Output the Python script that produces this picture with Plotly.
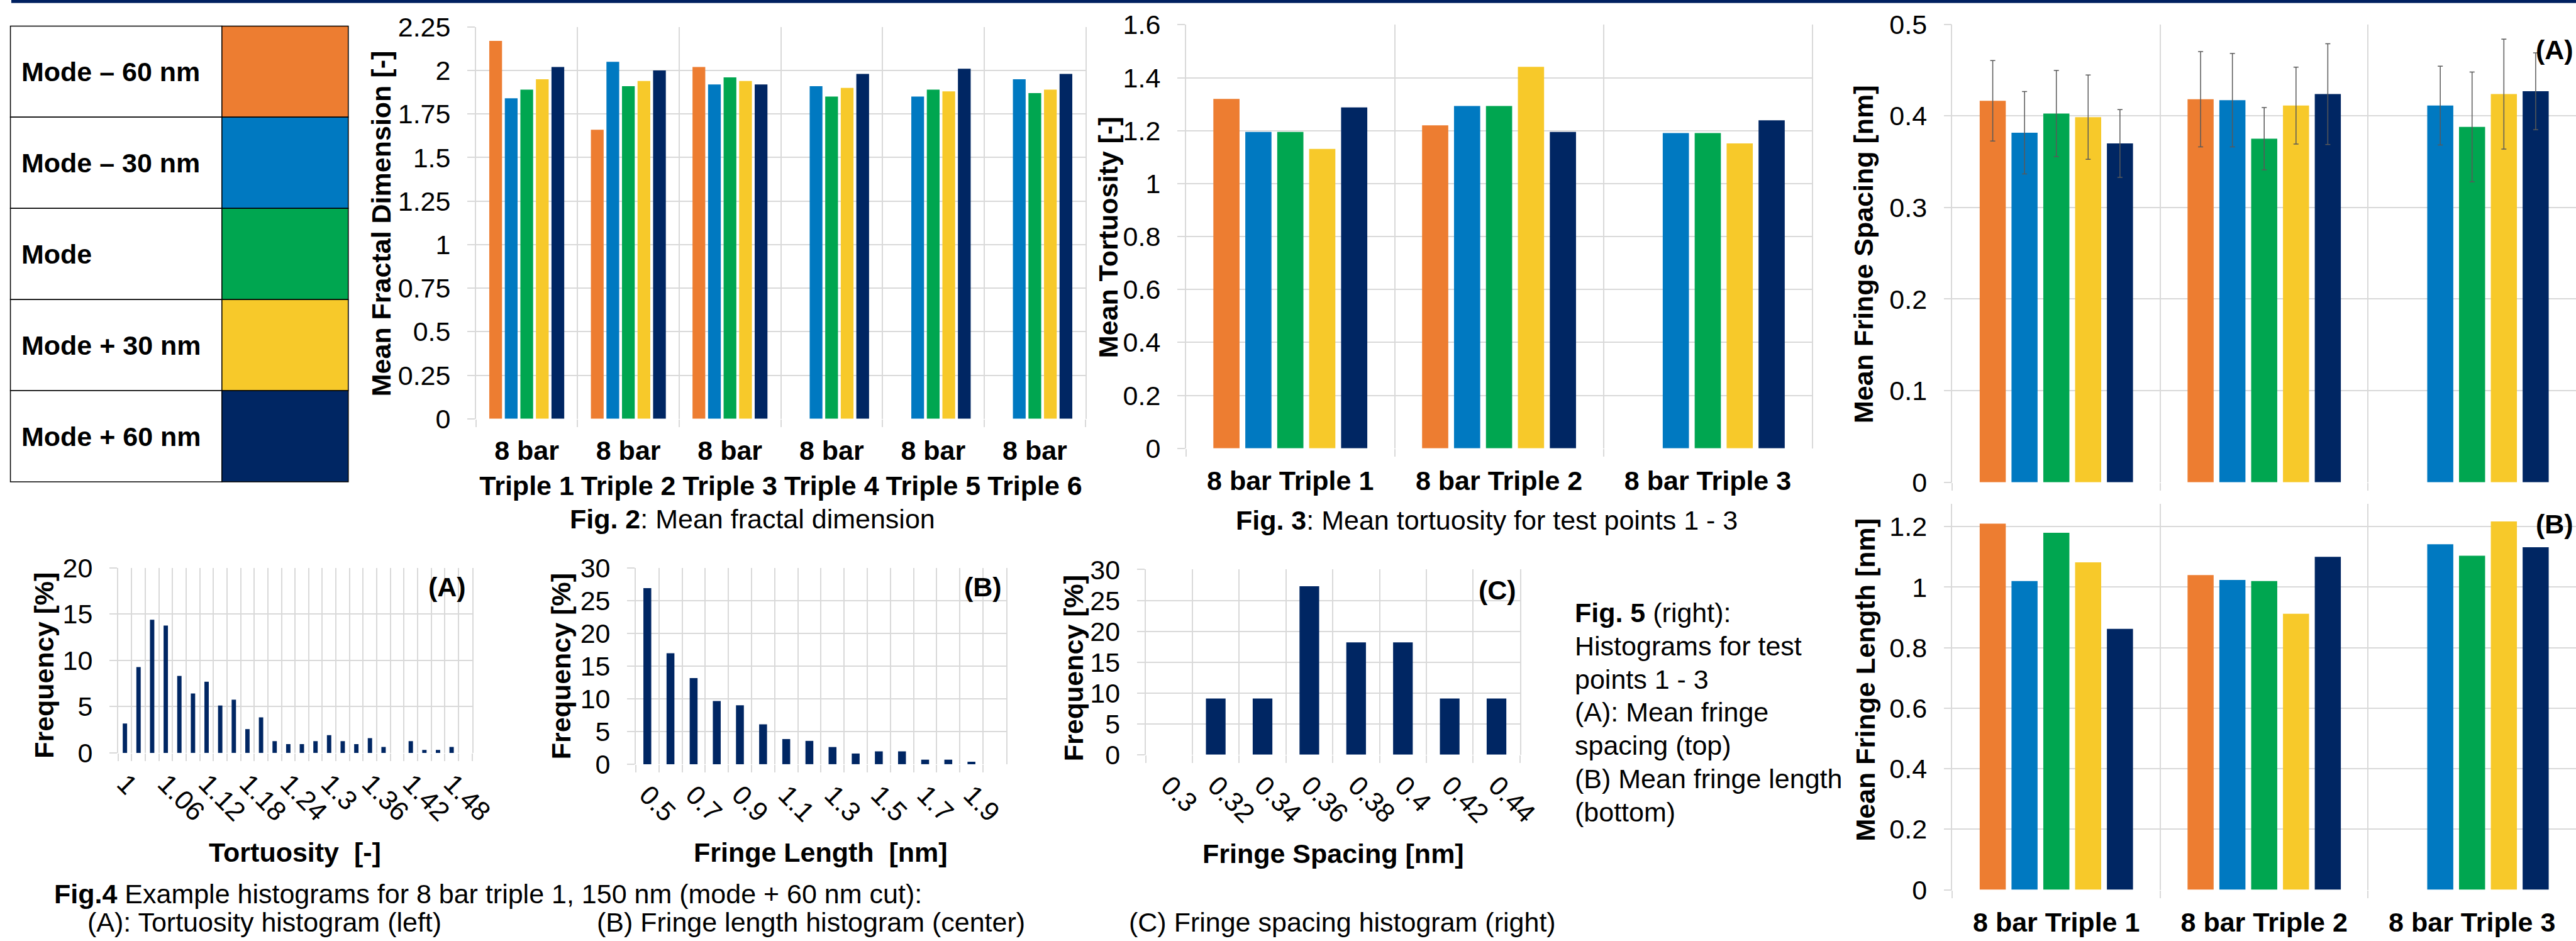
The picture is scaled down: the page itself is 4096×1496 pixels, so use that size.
import plotly.graph_objects as go

# ---------------- data ----------------
SERIES = ["Mode \u2013 60 nm", "Mode \u2013 30 nm", "Mode", "Mode + 30 nm", "Mode + 60 nm"]

# Fig. 2: mean fractal dimension
FD_CATS = ["8 bar<br>Triple 1", "8 bar<br>Triple 2", "8 bar<br>Triple 3",
           "8 bar<br>Triple 4", "8 bar<br>Triple 5", "8 bar<br>Triple 6"]
FD_M60 = [2.17, 1.66, 2.02, None, None, None]
FD_M30 = [1.84, 2.05, 1.92, 1.91, 1.85, 1.95]
FD_MODE = [1.89, 1.91, 1.96, 1.85, 1.89, 1.87]
FD_P30 = [1.95, 1.94, 1.94, 1.90, 1.88, 1.89]
FD_P60 = [2.02, 2.00, 1.92, 1.98, 2.01, 1.98]
FD_TICKS = [0, 0.25, 0.5, 0.75, 1, 1.25, 1.5, 1.75, 2, 2.25]
FD_TICKTEXT = ["0", "0.25", "0.5", "0.75", "1", "1.25", "1.5", "1.75", "2", "2.25"]

# Fig. 3: mean tortuosity
TP_CATS = ["8 bar Triple 1", "8 bar Triple 2", "8 bar Triple 3"]
TO_M60 = [1.32, 1.22, None]
TO_M30 = [1.195, 1.293, 1.191]
TO_MODE = [1.195, 1.293, 1.191]
TO_P30 = [1.131, 1.441, 1.152]
TO_P60 = [1.288, 1.195, 1.239]
TO_TICKS = [0, 0.2, 0.4, 0.6, 0.8, 1, 1.2, 1.4, 1.6]
TO_TICKTEXT = ["0", "0.2", "0.4", "0.6", "0.8", "1", "1.2", "1.4", "1.6"]

# Fig. 5 (A): mean fringe spacing with error bars
SP_M60 = [0.4165, 0.4182, None]
SP_M30 = [0.3817, 0.4172, 0.4113]
SP_MODE = [0.4026, 0.3751, 0.388]
SP_P30 = [0.3987, 0.4113, 0.4238]
SP_P60 = [0.3699, 0.4238, 0.4269]
SP_ERR_M60 = [0.044, 0.052, None]
SP_ERR_M30 = [0.045, 0.051, 0.043]
SP_ERR_MODE = [0.047, 0.034, 0.060]
SP_ERR_P30 = [0.046, 0.042, 0.060]
SP_ERR_P60 = [0.037, 0.055, 0.042]
SP_TICKS = [0, 0.1, 0.2, 0.3, 0.4, 0.5]
SP_TICKTEXT = ["0", "0.1", "0.2", "0.3", "0.4", "0.5"]

# Fig. 5 (B): mean fringe length
LE_M60 = [1.21, 1.04, None]
LE_M30 = [1.02, 1.024, 1.142]
LE_MODE = [1.18, 1.02, 1.104]
LE_P30 = [1.082, 0.912, 1.217]
LE_P60 = [0.862, 1.10, 1.132]
LE_TICKS = [0, 0.2, 0.4, 0.6, 0.8, 1, 1.2]
LE_TICKTEXT = ["0", "0.2", "0.4", "0.6", "0.8", "1", "1.2"]

# Fig. 4 (A): tortuosity histogram
TORT_BINS = ["1", "1.02", "1.04", "1.06", "1.08", "1.1", "1.12", "1.14", "1.16", "1.18",
             "1.2", "1.22", "1.24", "1.26", "1.28", "1.3", "1.32", "1.34", "1.36", "1.38",
             "1.4", "1.42", "1.44", "1.46", "1.48", "1.5"]
TORT_FREQ = [3.18, 9.28, 14.39, 13.76, 8.32, 6.42, 7.69, 5.12, 5.75, 2.57,
             3.84, 1.27, 0.95, 0.95, 1.27, 1.91, 1.27, 0.95, 1.59, 0.64,
             0, 1.27, 0.32, 0.32, 0.64, 0]
TORT_TICKTEXT = ["1", "", "", "1.06", "", "", "1.12", "", "", "1.18",
                 "", "", "1.24", "", "", "1.3", "", "", "1.36", "",
                 "", "1.42", "", "", "1.48", ""]

# Fig. 4 (B): fringe length histogram
LEN_BINS = ["0.5", "0.6", "0.7", "0.8", "0.9", "1", "1.1", "1.2", "1.3", "1.4",
            "1.5", "1.6", "1.7", "1.8", "1.9", "2"]
LEN_FREQ = [26.9, 16.96, 13.16, 9.64, 8.99, 6.09, 3.84, 3.56, 2.62, 1.63,
            1.96, 1.96, 0.69, 0.69, 0.37, 0]
LEN_TICKTEXT = ["0.5", "", "0.7", "", "0.9", "", "1.1", "", "1.3", "",
                "1.5", "", "1.7", "", "1.9", ""]

# Fig. 4 (C): fringe spacing histogram
SPC_BINS = ["0.3", "0.32", "0.34", "0.36", "0.38", "0.4", "0.42", "0.44"]
SPC_FREQ = [0, 9.1, 9.1, 27.3, 18.2, 18.2, 9.1, 9.1]

HIST_TICKS20 = [0, 5, 10, 15, 20]
HIST_TICKS30 = [0, 5, 10, 15, 20, 25, 30]

# ---------------- styles ----------------
COLORS = ["#ED7D31", "#0079C1", "#00A650", "#F7C92A", "#002663"]
NAVY = "#002663"
GRID = "#D9D9D9"
FONT = "Arial, Liberation Sans, sans-serif"
REF_W, REF_H = 5932.0, 2166.0
FS = 43


def px(x):
    return x / REF_W


def py(y):
    return 1 - y / REF_H


def dom_x(x0, x1):
    return [max(0, px(x0)), min(1, px(x1))]


def dom_y(y0, y1):
    return [py(y1), py(y0)]


fig = go.Figure()


def add_group(values_list, cats, xa, ya, errors=None):
    for i, vals in enumerate(values_list):
        kw = {}
        if errors is not None:
            kw["error_y"] = dict(type="data", array=errors[i], visible=True,
                                 color="#595959", thickness=1.5, width=4)
        fig.add_trace(go.Bar(x=cats, y=vals, name=SERIES[i], marker_color=COLORS[i],
                             marker_line_width=0, xaxis=xa, yaxis=ya,
                             showlegend=False, **kw))


add_group([FD_M60, FD_M30, FD_MODE, FD_P30, FD_P60], FD_CATS, "x", "y")
add_group([TO_M60, TO_M30, TO_MODE, TO_P30, TO_P60], TP_CATS, "x2", "y2")
add_group([SP_M60, SP_M30, SP_MODE, SP_P30, SP_P60], TP_CATS, "x3", "y3",
          errors=[SP_ERR_M60, SP_ERR_M30, SP_ERR_MODE, SP_ERR_P30, SP_ERR_P60])
add_group([LE_M60, LE_M30, LE_MODE, LE_P30, LE_P60], TP_CATS, "x4", "y4")

fig.add_trace(go.Bar(x=TORT_BINS, y=TORT_FREQ, marker_color=NAVY, marker_line_width=0,
                     width=0.32, xaxis="x5", yaxis="y5", showlegend=False))
fig.add_trace(go.Bar(x=LEN_BINS, y=LEN_FREQ, marker_color=NAVY, marker_line_width=0,
                     width=0.34, xaxis="x6", yaxis="y6", showlegend=False))
fig.add_trace(go.Bar(x=SPC_BINS, y=SPC_FREQ, marker_color=NAVY, marker_line_width=0,
                     width=0.42, xaxis="x7", yaxis="y7", showlegend=False))


def yax(domain, rng, tickvals, ticktext, anchor):
    return dict(domain=domain, range=rng, tickmode="array", tickvals=tickvals,
                ticktext=ticktext, showgrid=True, gridcolor=GRID, gridwidth=1.5,
                zeroline=False, showline=True, mirror=True, linecolor=GRID,
                linewidth=1.5, ticks="outside", ticklen=12, tickcolor=GRID,
                tickwidth=1.5, ticklabelstandoff=18, anchor=anchor, automargin=False,
                tickfont=dict(size=FS, color="black", family=FONT), fixedrange=True)


def xax(domain, anchor, bold=True, angle=0, tickvals=None, ticktext=None, show=True,
        standoff=14):
    d = dict(domain=domain, type="category", showgrid=True, gridcolor=GRID,
             gridwidth=1.5, tickson="boundaries", ticks="outside", ticklen=12,
             tickcolor=GRID, tickwidth=1.5, showline=False, zeroline=False,
             anchor=anchor, tickangle=angle, showticklabels=show, automargin=False,
             ticklabelstandoff=standoff,
             tickfont=dict(size=FS, color="black", family=FONT,
                           weight="bold" if bold else "normal"), fixedrange=True)
    if tickvals is not None:
        d.update(tickmode="array", tickvals=tickvals, ticktext=ticktext)
    return d


fig.update_layout(
    width=4096, height=1496, margin=dict(l=0, r=0, t=0, b=0, autoexpand=False),
    paper_bgcolor="white", plot_bgcolor="white",
    barmode="group", bargap=0.235, bargroupgap=0.18, showlegend=False,
    font=dict(family=FONT, color="black", size=FS),
    xaxis=xax(dom_x(1096, 2500), "y", standoff=21),
    yaxis=yax(dom_y(62, 964), [0, 2.25], FD_TICKS, FD_TICKTEXT, "x"),
    xaxis2=xax(dom_x(2731, 4173), "y2", standoff=22),
    yaxis2=yax(dom_y(57, 1032), [0, 1.6], TO_TICKS, TO_TICKTEXT, "x2"),
    xaxis3=xax(dom_x(4496, 5940), "y3", show=False),
    yaxis3=yax(dom_y(56, 1110), [0, 0.5], SP_TICKS, SP_TICKTEXT, "x3"),
    xaxis4=xax(dom_x(4496, 5940), "y4", standoff=22),
    yaxis4=yax(dom_y(1160, 2048), [0, 1.275], LE_TICKS, LE_TICKTEXT, "x4"),
    xaxis5=xax(dom_x(272, 1087), "y5", bold=False, angle=45,
               tickvals=TORT_BINS, ticktext=TORT_TICKTEXT),
    yaxis5=yax(dom_y(1307, 1733), [0, 20], HIST_TICKS20,
               [str(v) for v in HIST_TICKS20], "x5"),
    xaxis6=xax(dom_x(1464, 2317), "y6", bold=False, angle=45,
               tickvals=LEN_BINS, ticktext=LEN_TICKTEXT),
    yaxis6=yax(dom_y(1307, 1759), [0, 30], HIST_TICKS30,
               [str(v) for v in HIST_TICKS30], "x6"),
    xaxis7=xax(dom_x(2638, 3500), "y7", bold=False, angle=45),
    yaxis7=yax(dom_y(1311, 1737), [0, 30], HIST_TICKS30,
               [str(v) for v in HIST_TICKS30], "x7"),
)

shapes = []
# top navy rule
shapes.append(dict(type="rect", xref="paper", yref="paper", x0=px(26), x1=1,
                   y0=py(7), y1=1, fillcolor="#002060", line_width=0, layer="above"))

# legend table
T_LEFT, T_MID, T_RIGHT, T_TOP, T_BOT = 24, 511, 802, 60, 1109
row_h = (T_BOT - T_TOP) / len(SERIES)
annotations = []
for i, name in enumerate(SERIES):
    y0 = T_TOP + i * row_h
    y1 = y0 + row_h
    shapes.append(dict(type="rect", xref="paper", yref="paper", x0=px(T_LEFT), x1=px(T_MID),
                       y0=py(y1), y1=py(y0), fillcolor="white",
                       line=dict(color="black", width=1.5)))
    shapes.append(dict(type="rect", xref="paper", yref="paper", x0=px(T_MID), x1=px(T_RIGHT),
                       y0=py(y1), y1=py(y0), fillcolor=COLORS[i],
                       line=dict(color="black", width=1.5)))
    annotations.append(dict(text="<b>%s</b>" % name, xref="paper", yref="paper",
                            x=px(46), y=py((y0 + y1) / 2), xanchor="left", yanchor="middle",
                            showarrow=False, font=dict(size=FS, family=FONT, color="black")))


def ann(text, x, y, xanchor="center", angle=0, bold=False):
    t = "<b>%s</b>" % text if bold else text
    annotations.append(dict(text=t, xref="paper", yref="paper", x=px(x), y=py(y),
                            xanchor=xanchor, yanchor="middle", textangle=angle,
                            showarrow=False, font=dict(size=FS, family=FONT, color="black")))


# y-axis titles
ann("Mean Fractal Dimension [-]", 878, 514, angle=-90, bold=True)
ann("Mean Tortuosity [-]", 2552, 546, angle=-90, bold=True)
ann("Mean Fringe Spacing [nm]", 4291, 585, angle=-90, bold=True)
ann("Mean Fringe Length [nm]", 4296, 1564, angle=-90, bold=True)
ann("Frequency [%]", 101, 1532, angle=-90, bold=True)
ann("Frequency [%]", 1293, 1534, angle=-90, bold=True)
ann("Frequency [%]", 2472, 1538, angle=-90, bold=True)

# x-axis titles of histograms
ann("Tortuosity\u00a0 [-]", 679, 1962, bold=True)
ann("Fringe Length\u00a0 [nm]", 1890, 1962, bold=True)
ann("Fringe Spacing [nm]", 3070, 1965, bold=True)

# panel labels
ann("(A)", 5929, 114, xanchor="right", bold=True)
ann("(B)", 5929, 1206, xanchor="right", bold=True)
ann("(A)", 1029, 1351, bold=True)
ann("(B)", 2263, 1351, bold=True)
ann("(C)", 3448, 1358, bold=True)

# captions
ann("<b>Fig. 2</b>: Mean fractal dimension", 1733, 1194)
ann("<b>Fig. 3</b>: Mean tortuosity for test points 1 - 3", 3423, 1198)
ann("<b>Fig.4</b> Example histograms for 8 bar triple 1, 150 nm (mode + 60 nm cut):",
    122, 2058, xanchor="left")
ann("(A): Tortuosity histogram (left)", 199, 2122, xanchor="left")
ann("(B) Fringe length histogram (center)", 1372, 2122, xanchor="left")
ann("(C) Fringe spacing histogram (right)", 2597, 2122, xanchor="left")

FIG5_LINES = ["<b>Fig. 5</b> (right):", "Histograms for test", "points 1 - 3",
              "(A): Mean fringe", "spacing (top)", "(B) Mean fringe length", "(bottom)"]
for k, line in enumerate(FIG5_LINES):
    ann(line, 3624, 1410 + k * 76.5, xanchor="left")

fig.update_layout(shapes=shapes, annotations=annotations)
fig.write_html("out.html", config={"displayModeBar": False},
               post_script=["document.body.style.margin='0px';"])
